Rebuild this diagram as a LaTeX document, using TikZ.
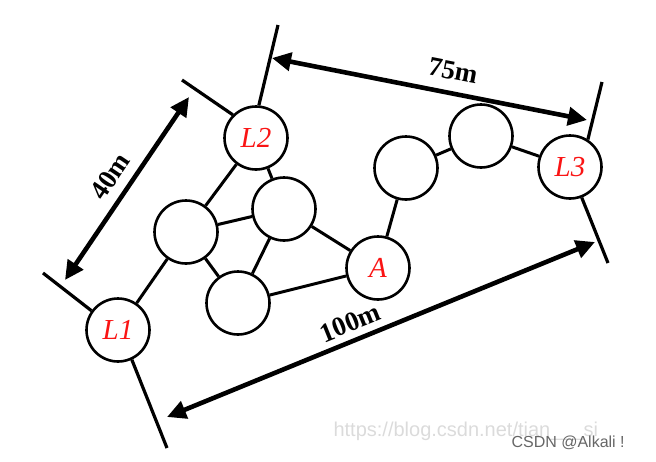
\documentclass[tikz,border=0pt]{standalone}
\usepackage{fontspec}
\setmainfont{Liberation Serif}
\newfontfamily\wmfont{Liberation Sans}
\usetikzlibrary{arrows.meta}
\definecolor{lblred}{RGB}{250,20,20}
\tikzset{
  site/.style={circle, draw, line width=2.6pt, fill=white, minimum size=63pt, inner sep=0pt,
    font=\fontsize{29}{29}\selectfont\itshape, text=lblred},
  link/.style={line width=3pt},
  bar/.style={line width=3.2pt},
  span/.style={line width=4.6pt, <->, >={Triangle[length=19pt,width=18pt]}},
  dimlabel/.style={font=\fontsize{27}{27}\selectfont\bfseries}
}
\begin{document}
\begin{tikzpicture}[x=1pt, y=-1pt]
\useasboundingbox (0,0) rectangle (656,461);
% stations
\node[site] (l1) at (118,330) {L1};
\node[site] (l2) at (256,138) {L2};
\node[site] (l3) at (570,167) {L3};
\node[site] (a)  at (378,268) {A};
\node[site] (n1) at (186,232) {};
\node[site] (n2) at (284,209) {};
\node[site] (n3) at (238,303) {};
\node[site] (n4) at (406,168) {};
\node[site] (n5) at (481,136) {};
% links
\draw[link] (l1) -- (n1);
\draw[link] (n1) -- (l2);
\draw[link] (l2) -- (n2);
\draw[link] (n1) -- (n2);
\draw[link] (n1) -- (n3);
\draw[link] (n2) -- (n3);
\draw[link] (n2) -- (a);
\draw[link] (n3) -- (a);
\draw[link] (a) -- (n4);
\draw[link] (n4) -- (n5);
\draw[link] (n5) -- (l3);
% extension bars
\coordinate (b1) at (43,273);
\coordinate (b2) at (167,448);
\coordinate (b3) at (182,80);
\coordinate (b4) at (278,25);
\coordinate (b5) at (602,82);
\coordinate (b6) at (608,263);
\draw[bar] (b1) -- (l1.144);
\draw[bar] (b2) -- (l1.-65);
\draw[bar] (b3) -- (l2.135);
\draw[bar] (b4) -- (l2.85);
\draw[bar] (b5) -- (l3.57);
\draw[bar] (b6) -- (l3.-69);
% dimensions
\coordinate (d1) at (65,280);
\coordinate (d2) at (189,97);
\coordinate (d3) at (272,58);
\coordinate (d4) at (587,120);
\coordinate (d5) at (167,417);
\coordinate (d6) at (595,242);
\draw[span] (d1) -- (d2);
\draw[span] (d3) -- (d4);
\draw[span] (d5) -- (d6);
\node[dimlabel, rotate=56] (m40) at (110,176) {40m};
\node[dimlabel, rotate=-11] (m75) at (453,71) {75m};
\node[dimlabel, rotate=22] (m100) at (350,323) {100m};
% watermark
\node[font=\wmfont\fontsize{20}{20}\selectfont, text=black!14, anchor=west] (url) at (330,431) {https://blog.csdn.net/tian\_\_\_si};
\node[font=\wmfont\fontsize{16}{16}\selectfont, text=black!60, anchor=west] (csdn) at (508,443) {CSDN @Alkali !};
\end{tikzpicture}
\end{document}
